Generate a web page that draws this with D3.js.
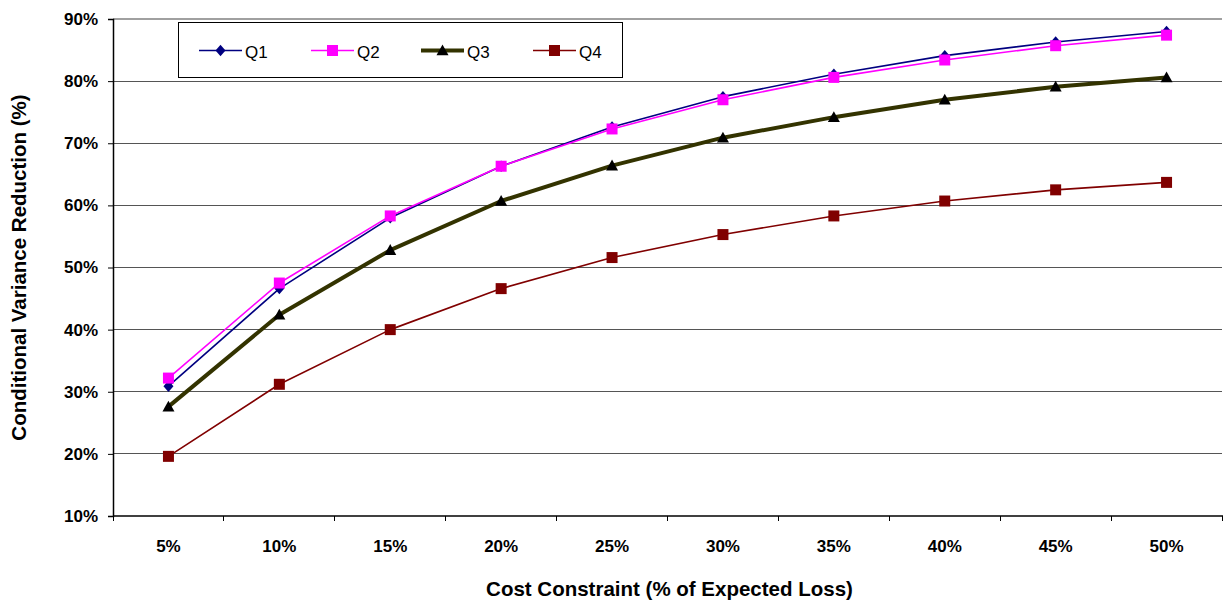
<!DOCTYPE html>
<html>
<head>
<meta charset="utf-8">
<script src="https://cdn.jsdelivr.net/npm/d3@7"></script>
<style>
  body { margin: 0; background: #fff; }
  svg { display: block; font-family: "Liberation Sans", Arial, sans-serif; }
</style>
</head>
<body>
<svg id="chart" width="1223" height="603"></svg>
<script>
// Cost constraint levels (x categories)
const categories = ["5%", "10%", "15%", "20%", "25%", "30%", "35%", "40%", "45%", "50%"];
// Conditional variance reduction (%) per quartile
const q1 = [30.9, 46.6, 58.0, 66.3, 72.6, 77.5, 81.1, 84.1, 86.3, 88.0];
const q2 = [32.2, 47.5, 58.3, 66.3, 72.3, 77.0, 80.6, 83.4, 85.7, 87.4];
const q3 = [27.6, 42.4, 52.8, 60.7, 66.4, 70.9, 74.2, 77.0, 79.1, 80.6];
const q4 = [19.6, 31.2, 40.0, 46.6, 51.6, 55.3, 58.3, 60.7, 62.5, 63.7];
const seriesNames = ["Q1", "Q2", "Q3", "Q4"];
const yTicks = [10, 20, 30, 40, 50, 60, 70, 80, 90];

const series = [
  { name: seriesNames[0], values: q1, color: "#000080", width: 1.6, marker: "diamond", mfill: "#000080", msize: 10 },
  { name: seriesNames[1], values: q2, color: "#FF00FF", width: 1.6, marker: "square", mfill: "#FF00FF", msize: 11 },
  { name: seriesNames[2], values: q3, color: "#333300", width: 4, marker: "triangle", mfill: "#000000", msize: 12 },
  { name: seriesNames[3], values: q4, color: "#800000", width: 1.6, marker: "square", mfill: "#800000", msize: 11 }
];

const svg = d3.select("#chart");
const plotLeft = 113, plotRight = 1222, plotTop = 19, plotBottom = 516;

const x = d3.scaleBand().domain(categories).range([plotLeft, plotRight]);
const y = d3.scaleLinear().domain([10, 90]).range([plotBottom, plotTop]);

// horizontal gridlines
svg.append("g").selectAll("line")
  .data(yTicks.filter(t => t !== 10))
  .join("line")
  .attr("x1", plotLeft).attr("x2", plotRight)
  .attr("y1", d => y(d)).attr("y2", d => y(d))
  .attr("stroke", d => d === 90 ? "#a0a0a0" : "#555")
  .attr("stroke-width", d => d === 90 ? 2 : 1)
  .attr("shape-rendering", "crispEdges");

// y axis
const yAxis = svg.append("g")
  .attr("transform", `translate(${plotLeft},0)`)
  .call(d3.axisLeft(y).tickValues(yTicks).tickFormat(d => d + "%").tickSize(5).tickPadding(10));
yAxis.select(".domain").attr("stroke", "#000").attr("stroke-width", 1.5);
yAxis.selectAll(".tick line").attr("stroke", "#000");
yAxis.selectAll("text").attr("font-size", 17).attr("font-weight", "bold").attr("fill", "#000")
  .attr("font-family", "Liberation Sans, Arial, sans-serif");

// x axis with ticks on category boundaries
const xAxis = svg.append("g")
  .attr("transform", `translate(0,${plotBottom})`);
xAxis.append("line")
  .attr("x1", plotLeft).attr("x2", plotRight + 1)
  .attr("y1", 0).attr("y2", 0)
  .attr("stroke", "#000").attr("stroke-width", 1.5);
const boundaries = categories.map(c => x(c)).concat([x(categories[categories.length - 1]) + x.bandwidth()]);
xAxis.selectAll("line.tk")
  .data(boundaries)
  .join("line").attr("class", "tk")
  .attr("x1", d => d).attr("x2", d => d)
  .attr("y1", 0).attr("y2", 5)
  .attr("stroke", "#000").attr("shape-rendering", "crispEdges");
xAxis.selectAll("text")
  .data(categories)
  .join("text")
  .attr("x", d => x(d) + x.bandwidth() / 2)
  .attr("y", 36)
  .attr("text-anchor", "middle")
  .attr("font-size", 17).attr("font-weight", "bold")
  .text(d => d);

// axis titles
svg.append("text")
  .attr("x", 669.5).attr("y", 596)
  .attr("text-anchor", "middle")
  .attr("font-size", 20.5).attr("font-weight", "bold")
  .text("Cost Constraint (% of Expected Loss)");
svg.append("text")
  .attr("transform", `translate(26,${(plotTop + plotBottom) / 2}) rotate(-90)`)
  .attr("text-anchor", "middle")
  .attr("font-size", 20.5).attr("font-weight", "bold")
  .text("Conditional Variance Reduction (%)");

// marker shapes
function markerPath(type, size) {
  const s = size / 2;
  if (type === "diamond") return `M0,${-s * 1.15}L${s},0L0,${s * 1.15}L${-s},0Z`;
  if (type === "triangle") return `M0,${-s}L${s},${s * 0.8}L${-s},${s * 0.8}Z`;
  return `M${-s},${-s}H${s}V${s}H${-s}Z`;
}

const line = d3.line()
  .x((d, i) => x(categories[i]) + x.bandwidth() / 2)
  .y(d => y(d));

// series lines and markers
series.forEach(s => {
  const g = svg.append("g");
  g.append("path")
    .attr("d", line(s.values))
    .attr("fill", "none")
    .attr("stroke", s.color)
    .attr("stroke-width", s.width)
    .attr("stroke-linejoin", "round");
  g.selectAll("path.m")
    .data(s.values)
    .join("path").attr("class", "m")
    .attr("transform", (d, i) => `translate(${x(categories[i]) + x.bandwidth() / 2},${y(d)})`)
    .attr("d", markerPath(s.marker, s.msize))
    .attr("fill", s.mfill);
});

// legend
const legend = svg.append("g");
legend.append("rect")
  .attr("x", 178.5).attr("y", 22.5).attr("width", 444).attr("height", 55)
  .attr("fill", "#fff").attr("stroke", "#000").attr("stroke-width", 1);
const legendX = [199, 311, 421, 533];
series.forEach((s, i) => {
  const lx = legendX[i], ly = 50.5;
  legend.append("line")
    .attr("x1", lx).attr("x2", lx + 43)
    .attr("y1", ly).attr("y2", ly)
    .attr("stroke", s.color).attr("stroke-width", s.width);
  legend.append("path")
    .attr("transform", `translate(${lx + 21.5},${ly})`)
    .attr("d", markerPath(s.marker, s.msize))
    .attr("fill", s.mfill);
  legend.append("text")
    .attr("x", lx + 46).attr("y", ly + 7)
    .attr("font-size", 17)
    .text(s.name);
});
</script>
</body>
</html>
